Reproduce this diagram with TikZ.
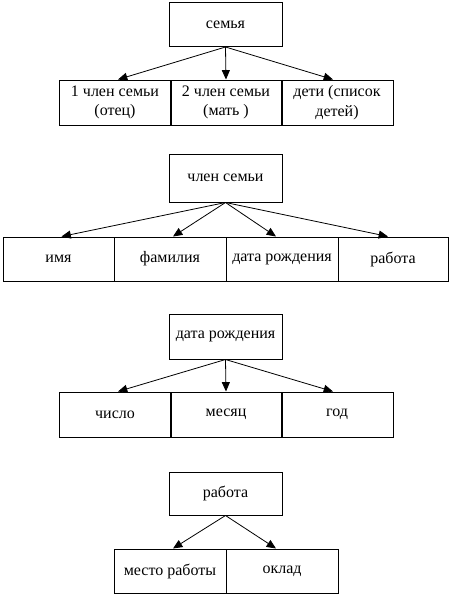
\documentclass[tikz,border=0pt]{standalone}
\usepackage{fontspec}
\setmainfont{Liberation Serif}
\usetikzlibrary{arrows.meta}
\begin{document}
\begin{tikzpicture}[x=0.75pt,y=-0.75pt,
  box/.style={draw=black,line width=0.75pt,inner sep=0pt,align=center,font=\fontsize{12}{14.5}\selectfont,
    minimum width=112*0.75pt},
  topbox/.style={box,minimum width=113*0.75pt},
  arr/.style={-{Triangle[length=7pt,width=6pt]},line width=0.6pt,shorten >=0pt}]
\useasboundingbox (0,0) rectangle (451,596);
% section 1
\node[topbox,minimum height=44*0.75pt] (s) at (225.5,24.5) {семья};
\node[box,minimum height=45*0.75pt] (s1) at (115,102.5) {1 член семьи\\(отец)};
\node[box,minimum height=45*0.75pt] (s2) at (226,102.5) {2 член семьи\\(мать )};
\node[box,minimum height=45*0.75pt] (s3) at (337,102.5) {дети (список\\детей)};
\draw[arr] (s.south) -- ([xshift=3*0.75pt]s1.north);
\draw[arr] (s.south) -- (s2.north);
\draw[arr] (s.south) -- ([xshift=-4*0.75pt]s3.north);
% section 2
\node[topbox,minimum height=48*0.75pt] (m) at (225.5,178) {член семьи};
\node[box,minimum height=44*0.75pt,minimum width=111*0.75pt] (m1) at (58.5,259) {имя};
\node[box,minimum height=44*0.75pt] (m2) at (170,259) {фамилия};
\node[box,minimum height=44*0.75pt] (m3) at (282,259) {дата рождения};
\node[box,minimum height=44*0.75pt,minimum width=110*0.75pt] (m4) at (393,259) {работа};
\draw[arr] (m.south) -- ([xshift=3*0.75pt]m1.north);
\draw[arr] (m.south) -- ([xshift=3*0.75pt]m2.north);
\draw[arr] (m.south) -- ([xshift=-6*0.75pt]m3.north);
\draw[arr] (m.south) -- ([xshift=-5*0.75pt]m4.north);
% section 3
\node[topbox,minimum height=45*0.75pt] (d) at (225.5,336.5) {дата рождения};
\node[box,minimum height=45*0.75pt] (d1) at (115,414.5) {число};
\node[box,minimum height=45*0.75pt] (d2) at (226,414.5) {месяц};
\node[box,minimum height=45*0.75pt] (d3) at (337,414.5) {год};
\draw[arr] (d.south) -- ([xshift=3*0.75pt]d1.north);
\draw[arr] (d.south) -- (d2.north);
\draw[arr] (d.south) -- ([xshift=-4*0.75pt]d3.north);
% section 4
\node[topbox,minimum height=43*0.75pt] (r) at (225.5,493.5) {работа};
\node[box,minimum height=44*0.75pt] (r1) at (170,571) {место работы};
\node[box,minimum height=44*0.75pt] (r2) at (282,571) {оклад};
\draw[arr] (r.south) -- ([xshift=3*0.75pt]r1.north);
\draw[arr] (r.south) -- ([xshift=-6*0.75pt]r2.north);
\end{tikzpicture}
\end{document}
